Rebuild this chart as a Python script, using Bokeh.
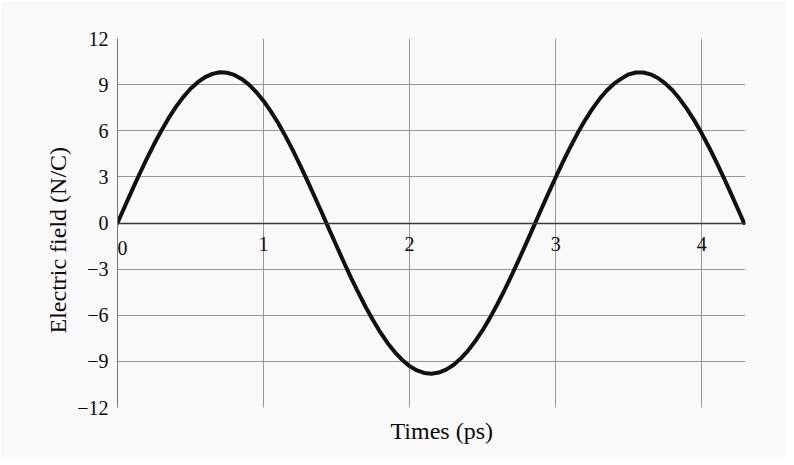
from bokeh.plotting import figure
from bokeh.models import Range1d, FixedTicker, LinearAxis, Title
from bokeh.embed import file_html
from bokeh.resources import INLINE

# values
time_ps = [0.0, 0.05, 0.1, 0.15, 0.2, 0.25, 0.3, 0.35, 0.4, 0.45, 0.5, 0.55, 0.6,
           0.65, 0.7, 0.75, 0.8, 0.85, 0.9, 0.95, 1.0, 1.05, 1.1, 1.15, 1.2,
           1.25, 1.3, 1.35, 1.4, 1.45, 1.5, 1.55, 1.6, 1.65, 1.7, 1.75, 1.8,
           1.85, 1.9, 1.95, 2.0, 2.05, 2.1, 2.15, 2.2, 2.25, 2.3, 2.35, 2.4,
           2.45, 2.5, 2.55, 2.6, 2.65, 2.7, 2.75, 2.8, 2.85, 2.9, 2.95, 3.0,
           3.05, 3.1, 3.15, 3.2, 3.25, 3.3, 3.35, 3.4, 3.45, 3.5, 3.55, 3.6,
           3.65, 3.7, 3.75, 3.8, 3.85, 3.9, 3.95, 4.0, 4.05, 4.1, 4.15, 4.2,
           4.25, 4.29]
efield = [0.0, 1.07, 2.14, 3.17, 4.17, 5.12, 6.0, 6.82, 7.55, 8.19, 8.73, 9.16,
          9.49, 9.7, 9.8, 9.77, 9.63, 9.37, 9.0, 8.52, 7.94, 7.26, 6.5, 5.65,
          4.74, 3.77, 2.76, 1.71, 0.65, -0.43, -1.5, -2.55, -3.58, -4.55, -5.48,
          -6.33, -7.12, -7.82, -8.41, -8.91, -9.31, -9.59, -9.75, -9.8, -9.73,
          -9.54, -9.24, -8.82, -8.3, -7.68, -6.97, -6.17, -5.3, -4.36, -3.37,
          -2.35, -1.29, -0.22, 0.86, 1.93, 2.96, 3.97, 4.93, 5.83, 6.66, 7.41,
          8.06, 8.62, 9.06, 9.39, 9.67, 9.79, 9.79, 9.67, 9.43, 9.08, 8.63,
          8.06, 7.41, 6.66, 5.83, 4.93, 3.97, 2.97, 1.93, 0.86, 0.0]
x_ticks = [1, 2, 3, 4]
x_origin_tick = [0]
y_ticks = [-12, -9, -6, -3, 0, 3, 6, 9, 12]
y_tick_labels = ["−12", "−9", "−6", "−3", "0", "3", "6", "9", "12"]
x_title = "Times (ps)"
y_title = "Electric field (N/C)"

FONT = "Liberation Serif"
INK = "#0a0a0a"
BG = "#f9f9f9"

p = figure(width=786, height=457, output_backend="svg", toolbar_location=None,
           x_range=Range1d(0, 4.3), y_range=Range1d(-12, 12),
           x_axis_location=None, y_axis_location=None,
           min_border_left=117, min_border_right=41,
           min_border_top=38, min_border_bottom=50)
p.background_fill_color = BG
p.border_fill_color = BG
p.outline_line_color = None


def style_x(ax):
    ax.major_tick_line_color = None
    ax.minor_tick_line_color = None
    ax.major_tick_out = 0
    ax.major_tick_in = 0
    ax.major_label_standoff = 14
    ax.major_label_text_font = FONT
    ax.major_label_text_font_size = "20px"
    ax.major_label_text_color = INK


# x axis drawn at E = 0
xa = LinearAxis(ticker=FixedTicker(ticks=x_ticks), fixed_location=0)
style_x(xa)
xa.axis_line_color = "#3a3a3a"
xa.axis_line_width = 1.5
p.add_layout(xa, "below")

# the origin label, kept clear of the frame edge
x0 = LinearAxis(ticker=FixedTicker(ticks=x_origin_tick), fixed_location=0)
style_x(x0)
x0.axis_line_color = None
x0.major_label_overrides = {0: "\u20070"}
p.add_layout(x0, "below")

ya = LinearAxis(ticker=FixedTicker(ticks=y_ticks))
ya.major_label_overrides = {t: s for t, s in zip(y_ticks, y_tick_labels)}
ya.axis_line_color = "#777777"
ya.axis_line_width = 1
ya.major_tick_line_color = None
ya.minor_tick_line_color = None
ya.major_tick_out = 0
ya.major_tick_in = 0
ya.major_label_standoff = 9
ya.major_label_text_font = FONT
ya.major_label_text_font_size = "20px"
ya.major_label_text_color = INK
p.add_layout(ya, "left")

yt = Title(text=y_title, align="left", offset=74, standoff=8,
           text_font=FONT, text_font_size="24px", text_font_style="normal",
           text_color=INK)
p.add_layout(yt, "left")

p.xgrid.ticker = FixedTicker(ticks=x_ticks)
p.ygrid.ticker = FixedTicker(ticks=y_ticks)
for g in (p.xgrid, p.ygrid):
    g.grid_line_color = "#8c8c8c"
    g.grid_line_width = 1
    g.grid_line_alpha = 0.9

p.line(time_ps, efield, line_color="#111111", line_width=4, line_join="round",
       line_cap="round")

xt = Title(text=x_title, align="left", offset=273, standoff=17,
           text_font=FONT, text_font_size="24px", text_font_style="normal",
           text_color=INK)
p.add_layout(xt, "below")

open("out.html", "w").write(file_html(p, INLINE))
